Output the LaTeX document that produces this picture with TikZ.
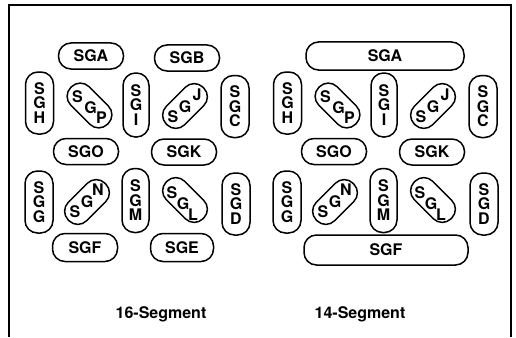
\documentclass[tikz,border=0pt]{standalone}
\usepackage{fontspec}
\setmainfont{TeX Gyre Heros}

\tikzset{
  segfont/.style={font=\fontsize{16}{14.5}\selectfont\bfseries},
  seg/.style={draw, line width=1.5pt, rounded corners=12.5pt, inner sep=0pt, segfont},
  hseg/.style={seg, minimum width=65pt, minimum height=26pt},
  vseg/.style={seg, minimum width=28pt, minimum height=62pt, align=center},
  dseg/.style={seg, minimum width=52pt, minimum height=26pt},
  letter/.style={inner sep=0pt, segfont},
}

\begin{document}
\begin{tikzpicture}[x=1pt, y=-1pt]

  \useasboundingbox (0,0) rectangle (516,337);
  \draw[line width=1.2pt] (9,337) -- (9,5) -- (511,5) -- (511,337);

  % segments common to both displays
  \foreach \dx/\pre in {0/a, 248/b} {
    \node[vseg] (\pre H) at (\dx+39.5,103) {S\\G\\H};
    \node[vseg, minimum width=26pt, minimum height=64pt] (\pre I) at (\dx+136,105) {S\\G\\I};
    \node[vseg] (\pre C) at (\dx+235,106.5) {S\\G\\C};
    \node[vseg] (\pre G) at (\dx+39,202) {S\\G\\G};
    \node[vseg, minimum width=27pt, minimum height=64pt] (\pre M) at (\dx+135.5,200.5) {S\\G\\M};
    \node[vseg] (\pre D) at (\dx+236,204) {S\\G\\D};

    \node[hseg] (\pre O) at (\dx+86,151.5) {SGO};
    \node[hseg] (\pre K) at (\dx+184,152) {SGK};

    \node[dseg, rotate=-45] (\pre P) at (\dx+89.5,105.5) {};
    \node[letter] (\pre P1) at ([shift={(-12,-9)}]\pre P) {S};
    \node[letter] (\pre P2) at ([shift={(1,2)}]\pre P) {G};
    \node[letter] (\pre P3) at ([shift={(12,12)}]\pre P) {P};

    \node[dseg, rotate=45] (\pre J) at (\dx+185,106) {};
    \node[letter] (\pre J1) at ([shift={(-12,11)}]\pre J) {S};
    \node[letter] (\pre J2) at ([shift={(0,1)}]\pre J) {G};
    \node[letter] (\pre J3) at ([shift={(12,-11)}]\pre J) {J};

    \node[dseg, rotate=45] (\pre N) at (\dx+87,202) {};
    \node[letter] (\pre N1) at ([shift={(-12,10)}]\pre N) {S};
    \node[letter] (\pre N2) at ([shift={(0,0)}]\pre N) {G};
    \node[letter] (\pre N3) at ([shift={(11,-12)}]\pre N) {N};

    \node[dseg, rotate=-45] (\pre L) at (\dx+185,200) {};
    \node[letter] (\pre L1) at ([shift={(-13,-7)}]\pre L) {S};
    \node[letter] (\pre L2) at ([shift={(-2,4)}]\pre L) {G};
    \node[letter] (\pre L3) at ([shift={(8,15)}]\pre L) {L};
  }

  % 16-segment only
  \node[hseg] (aA) at (91,56) {SGA};
  \node[hseg] (aB) at (187,58) {SGB};
  \node[hseg, minimum height=28pt] (aF) at (85,247.5) {SGF};
  \node[hseg, minimum height=28pt, minimum width=63pt] (aE) at (182,247.5) {SGE};

  % 14-segment only
  \node[hseg, minimum width=158pt, minimum height=28pt] (bA) at (385,56) {SGA};
  \node[hseg, minimum width=164pt, minimum height=30pt] (bF) at (386,250) {SGF};

  \node[letter] (title16) at (161,314) {16-Segment};
  \node[letter] (title14) at (360,314) {14-Segment};

\end{tikzpicture}
\end{document}
